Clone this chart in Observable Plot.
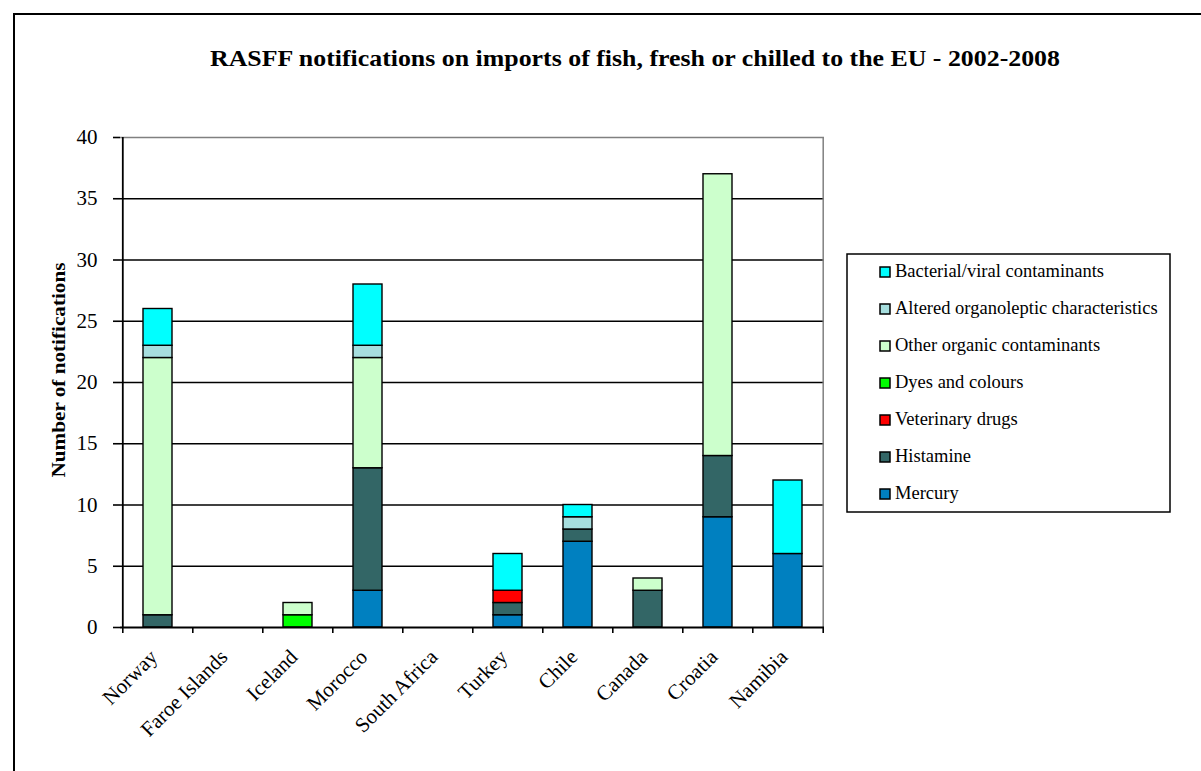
<!DOCTYPE html>
<html><head><meta charset="utf-8">
<script src="https://cdn.jsdelivr.net/npm/d3@7"></script>
<script src="https://cdn.jsdelivr.net/npm/@observablehq/plot@0.6"></script>
<style>
html,body{margin:0;padding:0;background:#fff;width:1201px;height:771px;overflow:hidden}
#wrap{position:relative;width:1201px;height:771px}
#chart,#overlay{position:absolute;left:0;top:0}
#overlay{pointer-events:none}
</style></head><body>
<div id="wrap"><div id="chart"></div><svg id="overlay" width="1201" height="771"></svg></div>
<script>
const countries = ["Norway","Faroe Islands","Iceland","Morocco","South Africa","Turkey","Chile","Canada","Croatia","Namibia"];
const hazards = ["Mercury","Histamine","Veterinary drugs","Dyes and colours","Other organic contaminants","Altered organoleptic characteristics","Bacterial/viral contaminants"];
const colors = ["#0080C0","#336666","#FF0000","#00FF00","#CCFFCC","#A6DEDE","#00FFFF"];
const mercury      = [0,0,0,3,0,1,7,0,9,6];
const histamine    = [1,0,0,10,0,1,1,3,5,0];
const vetDrugs     = [0,0,0,0,0,1,0,0,0,0];
const dyes         = [0,0,1,0,0,0,0,0,0,0];
const otherOrganic = [21,0,1,9,0,0,0,1,23,0];
const altered      = [1,0,0,1,0,0,1,0,0,0];
const bacterial    = [3,0,0,5,0,3,1,0,0,6];
const yTicks = [0,5,10,15,20,25,30,35,40];
const title = "RASFF notifications on imports of fish, fresh or chilled to the EU - 2002-2008";
const yLabel = "Number of notifications";

const W=1201,H=771,mL=120,mR=377,mT=137,mB=144;
const step=(W-mL-mR)/countries.length;
const series=[mercury,histamine,vetDrugs,dyes,otherOrganic,altered,bacterial];
const rows=[];
hazards.forEach((h,k)=>countries.forEach((c,i)=>{ if(series[k][i]>0) rows.push({country:c,hazard:h,value:series[k][i]}); }));
const serif="'Liberation Serif','Times New Roman',serif";
const last=countries[countries.length-1];

const chart=Plot.plot({
  width:W,height:H,marginLeft:mL,marginRight:mR,marginTop:mT,marginBottom:mB,
  style:{fontFamily:serif,background:"transparent",color:"#000"},
  x:{domain:countries,paddingInner:0.59,paddingOuter:0.295,label:null},
  y:{domain:[0,40],label:null},
  color:{domain:hazards,range:colors},
  marks:[
    Plot.ruleY(yTicks.slice(1,-1),{stroke:"#000",strokeWidth:1.5}),
    Plot.ruleY([40],{stroke:"#808080",strokeWidth:1.5}),
    Plot.ruleX([last],{dx:step/2,stroke:"#808080",strokeWidth:1.5}),
    Plot.barY(rows,{x:"country",y:"value",fill:"hazard",stroke:"#000",strokeWidth:1.4}),
    Plot.ruleY([0],{stroke:"#000",strokeWidth:1.8}),
    Plot.ruleX([countries[0]],{dx:-step/2,stroke:"#000",strokeWidth:1.8}),
    Plot.axisY({ticks:yTicks,tickSize:7,tickPadding:16,fontSize:21,strokeWidth:1.6,label:null}),
    Plot.axisX({tickSize:6,dx:-step/2,tickFormat:()=>"",strokeWidth:1.6,label:null}),
    Plot.axisX({ticks:[last],tickSize:6,dx:step/2,tickFormat:()=>"",strokeWidth:1.6,label:null}),
    Plot.axisX({tickSize:0,tickRotate:-45,tickPadding:26,dx:-4,fontSize:21,label:null})
  ]
});
document.getElementById("chart").appendChild(chart);

const ov=d3.select("#overlay");
ov.append("rect").attr("x",14).attr("y",14).attr("width",1300).attr("height",900)
  .attr("fill","none").attr("stroke","#000").attr("stroke-width",2);
ov.append("text").attr("x",635).attr("y",66).attr("text-anchor","middle")
  .attr("font-family",serif).attr("font-weight","bold").attr("font-size",23)
  .attr("textLength",850).attr("lengthAdjust","spacingAndGlyphs").text(title);
ov.append("text").attr("transform","translate(65,370) rotate(-90)").attr("text-anchor","middle")
  .attr("font-family",serif).attr("font-weight","bold").attr("font-size",18)
  .attr("textLength",215).attr("lengthAdjust","spacingAndGlyphs").text(yLabel);
const lg=ov.append("g");
lg.append("rect").attr("x",847).attr("y",254).attr("width",323).attr("height",258)
  .attr("fill","#fff").attr("stroke","#000").attr("stroke-width",1.5);
const legendItems=hazards.map((h,k)=>({h,c:colors[k]})).reverse();
legendItems.forEach((d,i)=>{
  const by=277+i*37;
  lg.append("rect").attr("x",880).attr("y",by-10).attr("width",10).attr("height",10)
    .attr("fill",d.c).attr("stroke","#000").attr("stroke-width",1.5);
  lg.append("text").attr("x",895).attr("y",by).attr("font-family",serif).attr("font-size",18.5).text(d.h);
});
</script></body></html>
